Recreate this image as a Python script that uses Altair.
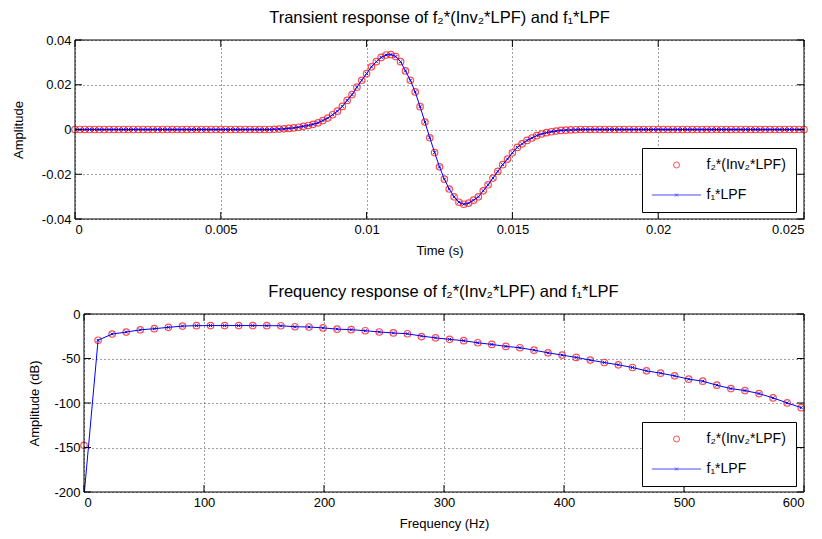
import altair as alt
import pandas as pd

FONT = "Liberation Sans"
S1 = "f₂*(Inv₂*LPF)"
S2 = "f₁*LPF"
RED = "#ff0000"
BLUE = "#0000ff"

# ---------------- data ----------------
sample_rate_hz = 6000
time_s = [i / sample_rate_hz for i in range(151)]
transient_f1_lpf = [0.0] * 41 + [
    0.0001, 0.0002, 0.0003, 0.0005, 0.0007, 0.0010, 0.0014, 0.0018, 0.0023, 0.0030,
    0.0040, 0.0051, 0.0066, 0.0082, 0.0103, 0.0130, 0.0156, 0.0189, 0.0220, 0.0250,
    0.0280, 0.0303, 0.0322, 0.0333, 0.0335, 0.0326, 0.0303, 0.0262, 0.0220, 0.0168,
    0.0102, 0.0033, -0.0037, -0.0103, -0.0167, -0.0222, -0.0266, -0.0301, -0.0325, -0.0334,
    -0.0329, -0.0316, -0.0301, -0.0274, -0.0247, -0.0217, -0.0187, -0.0157, -0.0132, -0.0104,
    -0.0080, -0.0064, -0.0049, -0.0038, -0.0027, -0.0020, -0.0014, -0.0010, -0.0007, -0.0004,
    -0.0003, -0.0002, -0.0001,
] + [0.0] * 47
transient_f2_inv = list(transient_f1_lpf)

bin_width_hz = 6000 / 512
freq_hz = [k * bin_width_hz for k in range(52)]
mag_f1_lpf_db = [
    -205.0, -29.5, -22.5, -20.3, -17.8, -16.5, -15.0, -13.6, -13.1, -13.0,
    -13.0, -13.0, -13.0, -13.1, -13.2, -14.3, -14.6, -15.6, -17.0, -17.6,
    -18.8, -20.2, -21.3, -22.2, -24.8, -26.8, -28.5, -30.0, -32.3, -34.2,
    -36.4, -37.9, -40.6, -43.6, -46.2, -48.8, -51.8, -54.5, -57.1, -60.1,
    -63.9, -66.5, -69.5, -73.2, -75.5, -80.0, -83.8, -86.0, -89.4, -94.3,
    -99.9, -105.2,
]
mag_f2_inv_db = [
    -147.5, -29.5, -22.5, -20.3, -17.8, -16.5, -15.0, -13.6, -13.1, -13.0,
    -13.0, -13.0, -13.0, -13.1, -13.2, -14.3, -14.6, -15.6, -17.0, -17.6,
    -18.8, -20.2, -21.3, -22.2, -25.4, -26.8, -28.5, -30.0, -32.3, -34.2,
    -36.4, -37.9, -40.6, -43.6, -46.2, -48.8, -51.8, -54.5, -57.1, -60.1,
    -63.9, -66.5, -69.5, -73.2, -75.5, -80.0, -83.8, -86.0, -89.4, -94.3,
    -99.9, -105.2,
]

time_ticks = [0, 0.005, 0.01, 0.015, 0.02, 0.025]
amp_ticks = [-0.04, -0.02, 0, 0.02, 0.04]
freq_ticks = [0, 100, 200, 300, 400, 500, 600]
db_ticks = [-200, -150, -100, -50, 0]

LINE_PATH = "M-8.2,0H8.2M-0.5,-0.5L0.5,0.5M-0.5,0.5L0.5,-0.5"
X_PATH = "M-1,-1L1,1M-1,1L1,-1"


def panel(x, y_red, y_blue, x_dom, y_dom, x_vals, y_vals, x_title, y_title,
          title, W, H, x0, legend_xy, y_title_pad, dx):
    df = pd.DataFrame({"x": x, "red": y_red, "blue": y_blue})
    df["series"] = S1
    xs = alt.Scale(domain=x_dom, range=[x0, W], nice=False, zero=False)
    ys = alt.Scale(domain=y_dom, nice=False, zero=False)
    xaxis = alt.Axis(values=x_vals, title=x_title, labelExpr="'' + datum.value",
                     labelPadding=4, titlePadding=8, grid=True)
    yaxis = alt.Axis(values=y_vals, title=y_title, labelExpr="'' + datum.value",
                     labelPadding=4, titlePadding=y_title_pad, grid=True, offset=-x0)
    leg = alt.Legend(title=None, orient="none", legendX=legend_xy[0], legendY=legend_xy[1],
                     direction="vertical", strokeColor="black", fillColor="white",
                     padding=10, rowPadding=16, symbolSize=36, symbolStrokeWidth=1,
                     symbolOffset=17.5, labelOffset=23, labelFontSize=14, labelFont=FONT,
                     cornerRadius=0, labelLimit=200)
    cscale = alt.Scale(domain=[S1, S2], range=[RED, BLUE])
    sscale = alt.Scale(domain=[S1, S2], range=["circle", LINE_PATH])

    red = alt.Chart(df).mark_point(filled=False, size=42, strokeWidth=1.2).encode(
        x=alt.X("x:Q", scale=xs, axis=xaxis),
        y=alt.Y("red:Q", scale=ys, axis=yaxis),
        color=alt.Color("series:N", scale=cscale, legend=leg),
        shape=alt.Shape("series:N", scale=sscale, legend=leg),
    )
    line = alt.Chart(df).mark_line(color=BLUE, strokeWidth=1, clip=True).encode(
        x=alt.X("x:Q", scale=xs, axis=xaxis),
        y=alt.Y("blue:Q", scale=ys, axis=yaxis),
    )
    marks = alt.Chart(df).mark_point(shape=X_PATH, size=8, filled=False, color=BLUE,
                                     strokeWidth=1, clip=True, opacity=1).encode(
        x=alt.X("x:Q", scale=xs, axis=xaxis),
        y=alt.Y("blue:Q", scale=ys, axis=yaxis),
    )
    one = pd.DataFrame({"a": [0]})
    frame = alt.Chart(one).mark_rect(fillOpacity=0, stroke="black", strokeWidth=1).encode(
        x=alt.value(x0), x2=alt.value(W), y=alt.value(0), y2=alt.value(H))
    dxt = pd.DataFrame({"v": x_vals})
    dyt = pd.DataFrame({"v": y_vals})
    tb = alt.Chart(dxt).mark_rule(color="black").encode(
        x=alt.X("v:Q", scale=xs, axis=xaxis), y=alt.value(H), y2=alt.value(H - 7))
    tt = alt.Chart(dxt).mark_rule(color="black").encode(
        x=alt.X("v:Q", scale=xs, axis=xaxis), y=alt.value(0), y2=alt.value(7))
    tl = alt.Chart(dyt).mark_rule(color="black").encode(
        y=alt.Y("v:Q", scale=ys, axis=yaxis), x=alt.value(x0), x2=alt.value(x0 + 7))
    tr = alt.Chart(dyt).mark_rule(color="black").encode(
        y=alt.Y("v:Q", scale=ys, axis=yaxis), x=alt.value(W), x2=alt.value(W - 7))
    return alt.layer(red, line, marks, frame, tb, tt, tl, tr).properties(
        width=W, height=H,
        title=alt.TitleParams(title, font=FONT, fontSize=16.5, fontWeight="normal",
                              color="black", offset=8, dx=dx),
    )


top = panel(time_s, transient_f2_inv, transient_f1_lpf, [0, 0.025], [-0.04, 0.04],
            time_ticks, amp_ticks, "Time (s)", "Amplitude",
            "Transient response of f₂*(Inv₂*LPF) and f₁*LPF",
            729, 179, 0, (567, 108), 16, 0)
bottom = panel(freq_hz, mag_f2_inv_db, mag_f1_lpf_db, [0, 600], [-200, 0],
               freq_ticks, db_ticks, "Frequency (Hz)", "Amplitude (dB)",
               "Frequency response of f₂*(Inv₂*LPF) and f₁*LPF",
               729, 178, 9, (567, 108), 12, 4)

chart = alt.vconcat(top, bottom, spacing=95, bounds="flush").resolve_scale(
    color="independent", shape="independent", x="independent", y="independent"
).resolve_legend(color="independent", shape="independent").properties(
    padding={"left": 4, "top": 1, "right": 4, "bottom": 4}
).configure_view(strokeWidth=0).configure_axis(
    labelFont=FONT, titleFont=FONT, labelFontSize=13, titleFontSize=13,
    labelColor="black", titleColor="black", titleFontWeight="normal",
    domain=False, ticks=False, gridColor="black", gridDash=[1, 3], gridOpacity=0.75,
    gridWidth=1,
).configure_legend(labelFont=FONT, labelFontSize=14, labelColor="black")

chart.save("out.html", embed_options={"renderer": "svg", "actions": False})
